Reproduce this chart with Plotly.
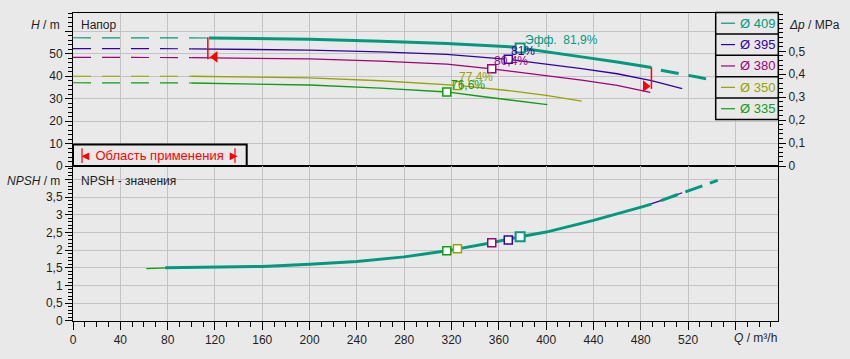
import plotly.graph_objects as go

# ---------------- data ----------------
diameters = [409, 395, 380, 350, 335]
colors = ["#00997f", "#3300a6", "#a0007a", "#98a300", "#0f9d12"]

Q_409 = [0, 50, 115, 150, 200, 260, 316, 372, 400, 430, 460, 489, 497, 515, 530, 545]
H_409 = [57.0, 57.0, 56.9, 56.7, 56.3, 55.4, 54.4, 52.9, 50.9, 48.5, 46.2, 43.8, 42.6, 40.9, 39.3, 37.6]

Q_395 = [0, 50, 100, 150, 200, 260, 316, 368, 400, 430, 460, 489, 515]
H_395 = [52.2, 52.2, 52.1, 51.9, 51.5, 50.7, 49.6, 47.4, 45.4, 43.3, 41.0, 38.0, 34.4]

Q_380 = [0, 50, 100, 150, 200, 260, 316, 354, 400, 430, 460, 488]
H_380 = [48.3, 48.3, 48.2, 48.0, 47.6, 46.6, 45.3, 43.2, 40.3, 38.2, 35.8, 32.7]

Q_350 = [0, 50, 100, 150, 200, 260, 316, 325, 372, 400, 430]
H_350 = [39.9, 39.9, 39.9, 39.7, 39.2, 37.9, 36.2, 35.8, 33.3, 31.4, 28.8]

Q_335 = [0, 50, 100, 150, 200, 260, 316, 344, 372, 401]
H_335 = [37.0, 37.0, 36.9, 36.6, 36.0, 34.6, 32.9, 31.0, 29.1, 27.3]

# best-efficiency points
eff_Q = [378, 368, 354, 325, 316]
eff_H = [52.4, 47.4, 43.2, 35.8, 32.9]
eff_NPSH = [2.38, 2.29, 2.21, 2.04, 1.98]
eff_text = ["Эфф.  81,9%", "81%", "80,4%", "77,4%", "76,6%"]

# NPSH curves
npsh_Q = [78, 120, 160, 200, 240, 280, 316, 354, 378, 400, 440, 481, 489]
npsh_N = [1.50, 1.51, 1.54, 1.60, 1.68, 1.81, 1.98, 2.21, 2.38, 2.51, 2.84, 3.22, 3.30]
npsh_ext_Q = [497, 515, 521, 536, 545]
npsh_ext_N = [3.40, 3.62, 3.68, 3.87, 3.97]
npsh_335_Q = [62, 80]
npsh_335_N = [1.48, 1.50]
npsh_395_Q = [481, 489, 497, 515]
npsh_395_N = [3.22, 3.30, 3.40, 3.62]

# application range limits
app_Q = [114, 489]
app_H_top = [57.2, 43.8]
app_H_bot = [47.4, 34.3]
arrow_Q = [120, 484]
arrow_H = [48.5, 35.5]

x_ticks = list(range(0, 600, 40))
x_ticktext = [str(v) for v in x_ticks[:-1]] + [""]
h_ticks = [0, 10, 20, 30, 40, 50, 60]
h_ticktext = ["0", "10", "20", "30", "40", "50", ""]
n_ticks = [0, 0.5, 1, 1.5, 2, 2.5, 3, 3.5, 4]
n_ticktext = ["0", "0,5", "1", "1,5", "2", "2,5", "3", "3,5", ""]
dp_ticks = [0, 0.1, 0.2, 0.3, 0.4, 0.5]
dp_ticktext = ["0", "0,1", "0,2", "0,3", "0,4", "0,5"]

# ---------------- layout geometry ----------------
W, HGT = 850, 359
ML, MR, MT, MB = 73, 72, 12, 33
PW = W - ML - MR
PH = HGT - MT - MB
SPLIT = (HGT - MB - 168) / PH
BG = "#e9e9e9"
GRID = "#c3c3c3"
FONT = "Liberation Sans, Arial, sans-serif"
TXT = "#1e1e1e"

H_MAX = 68.0
N_MAX = 4.375
Q_MAX = 596
DP_MAX = H_MAX * 1000 * 9.81 / 1e6


def px(x):
    return (x - ML) / PW


def py(y):
    return (HGT - MB - y) / PH


fig = go.Figure()
DASH = "18px,11px"

thin = [(Q_395, H_395), (Q_380, H_380), (Q_350, H_350), (Q_335, H_335)]
for (q, h), col in zip(thin[::-1], colors[1:][::-1]):
    i = q.index(100)
    fig.add_trace(go.Scatter(x=q[:i + 1], y=h[:i + 1], mode="lines",
                             line=dict(color=col, width=1.2, dash=DASH),
                             hoverinfo="skip", xaxis="x", yaxis="y"))
    fig.add_trace(go.Scatter(x=q[i:], y=h[i:], mode="lines",
                             line=dict(color=col, width=1.3),
                             hoverinfo="skip", xaxis="x", yaxis="y"))

# main curve 409
i0 = Q_409.index(115)
i1 = Q_409.index(489)
fig.add_trace(go.Scatter(x=Q_409[:i0 + 1], y=H_409[:i0 + 1], mode="lines",
                         line=dict(color=colors[0], width=1.2, dash=DASH),
                         hoverinfo="skip", xaxis="x", yaxis="y"))
fig.add_trace(go.Scatter(x=Q_409[i0:i1 + 1], y=H_409[i0:i1 + 1], mode="lines",
                         line=dict(color=colors[0], width=3),
                         hoverinfo="skip", xaxis="x", yaxis="y"))
fig.add_trace(go.Scatter(x=Q_409[i1 + 1:], y=H_409[i1 + 1:], mode="lines",
                         line=dict(color=colors[0], width=3, dash="18px,10px"),
                         hoverinfo="skip", xaxis="x", yaxis="y"))

# application range red marks
for k in range(2):
    fig.add_trace(go.Scatter(x=[app_Q[k], app_Q[k]], y=[app_H_bot[k], app_H_top[k]],
                             mode="lines", line=dict(color="#ff0000", width=1.5),
                             hoverinfo="skip", xaxis="x", yaxis="y"))
fig.add_trace(go.Scatter(x=arrow_Q, y=arrow_H, mode="markers",
                         marker=dict(symbol=["triangle-left", "triangle-right"], size=10,
                                     color="#ff0000", line=dict(width=0)),
                         hoverinfo="skip", xaxis="x", yaxis="y"))

# efficiency markers (head)
for k in range(5)[::-1]:
    big = k == 0
    fig.add_trace(go.Scatter(x=[eff_Q[k]], y=[eff_H[k]], mode="markers",
                             marker=dict(symbol="square", size=9 if big else 8, color="white",
                                         line=dict(color=colors[k], width=2 if big else 1.5)),
                             hoverinfo="skip", xaxis="x", yaxis="y"))

# dummy for right axis
fig.add_trace(go.Scatter(x=[None], y=[None], xaxis="x", yaxis="y2", hoverinfo="skip"))

# NPSH
fig.add_trace(go.Scatter(x=npsh_335_Q, y=npsh_335_N, mode="lines",
                         line=dict(color=colors[4], width=1.2), hoverinfo="skip",
                         xaxis="x2", yaxis="y3"))
fig.add_trace(go.Scatter(x=npsh_395_Q, y=npsh_395_N, mode="lines",
                         line=dict(color=colors[1], width=1.2), hoverinfo="skip",
                         xaxis="x2", yaxis="y3"))
fig.add_trace(go.Scatter(x=npsh_Q, y=npsh_N, mode="lines",
                         line=dict(color=colors[0], width=3), hoverinfo="skip",
                         xaxis="x2", yaxis="y3"))
fig.add_trace(go.Scatter(x=npsh_ext_Q, y=npsh_ext_N, mode="lines",
                         line=dict(color=colors[0], width=3, dash="18px,8px"), hoverinfo="skip",
                         xaxis="x2", yaxis="y3"))
for k in range(5)[::-1]:
    big = k == 0
    fig.add_trace(go.Scatter(x=[eff_Q[k]], y=[eff_NPSH[k]], mode="markers",
                             marker=dict(symbol="square", size=9 if big else 8, color="white",
                                         line=dict(color=colors[k], width=2 if big else 1.5)),
                             hoverinfo="skip", xaxis="x2", yaxis="y3"))

annotations = []
# efficiency labels
lab_dx = [3, 1, 0, 0, 2]
lab_dy = [8, 8, 8, 8, 7]
for k in range(5):
    annotations.append(dict(x=eff_Q[k], y=eff_H[k], xref="x", yref="y", text=eff_text[k],
                            showarrow=False, xanchor="left", yanchor="middle",
                            xshift=lab_dx[k], yshift=lab_dy[k],
                            font=dict(family=FONT, size=12, color=colors[k])))

# axis titles / panel titles
annotations += [
    dict(x=px(62), y=py(24), xref="paper", yref="paper", text="<i>H</i> / m",
         showarrow=False, xanchor="right", yanchor="middle", font=dict(family=FONT, size=12, color=TXT)),
    dict(x=px(79), y=py(24), xref="paper", yref="paper", text="Напор",
         showarrow=False, xanchor="left", yanchor="middle", font=dict(family=FONT, size=12, color=TXT)),
    dict(x=px(62), y=py(183), xref="paper", yref="paper", text="<i>NPSH</i> / m",
         showarrow=False, xanchor="right", yanchor="middle", font=dict(family=FONT, size=12, color=TXT)),
    dict(x=px(79), y=py(183), xref="paper", yref="paper", text="NPSH - значения",
         showarrow=False, xanchor="left", yanchor="middle", font=dict(family=FONT, size=12, color=TXT)),
    dict(x=px(787), y=py(24), xref="paper", yref="paper", text="<i>Δp</i> / MPa",
         showarrow=False, xanchor="left", yanchor="middle", font=dict(family=FONT, size=12, color=TXT)),
    dict(x=px(779), y=py(343), xref="paper", yref="paper", text="<i>Q</i> / m³/h",
         showarrow=False, xanchor="right", yanchor="middle", font=dict(family=FONT, size=12, color=TXT)),
    dict(x=px(159), y=py(157), xref="paper", yref="paper", text="◄ Область применения ►",
         showarrow=False, xanchor="center", yanchor="middle",
         font=dict(family=FONT, size=13, color="#ff0000")),
]

shapes = [
    # application box
    dict(type="rect", xref="paper", yref="paper", x0=px(73), x1=px(246.7), y0=py(168), y1=py(146),
         line=dict(color="black", width=2), fillcolor=BG, layer="above"),
    dict(type="line", xref="paper", yref="paper", x0=px(82), x1=px(82), y0=py(150), y1=py(165),
         line=dict(color="#ff0000", width=1.2), layer="above"),
    dict(type="line", xref="paper", yref="paper", x0=px(235), x1=px(235), y0=py(150), y1=py(165),
         line=dict(color="#ff0000", width=1.2), layer="above"),
]

# legend box
LX0, LX1, LY0 = 715.7, 778.3, 11.5
ROW = 21.8
shapes.append(dict(type="rect", xref="paper", yref="paper", x0=px(LX0), x1=px(LX1),
                   y0=py(LY0 + 5 * ROW), y1=py(LY0), line=dict(color="black", width=1.5),
                   fillcolor=BG, layer="above"))
for k in range(5):
    cy = LY0 + (k + 0.5) * ROW
    if k > 0:
        shapes.append(dict(type="line", xref="paper", yref="paper", x0=px(LX0), x1=px(LX1),
                           y0=py(LY0 + k * ROW), y1=py(LY0 + k * ROW),
                           line=dict(color="black", width=1.5), layer="above"))
    shapes.append(dict(type="line", xref="paper", yref="paper", x0=px(721), x1=px(735),
                       y0=py(cy), y1=py(cy), line=dict(color=colors[k], width=1.2), layer="above"))
    annotations.append(dict(x=px(738), y=py(cy), xref="paper", yref="paper",
                            text=f"Ø {diameters[k]}", showarrow=False, xanchor="left",
                            yanchor="middle", font=dict(family=FONT, size=13, color=colors[k])))

tickfont = dict(family=FONT, size=12, color=TXT)
fig.update_layout(
    width=W, height=HGT,
    margin=dict(l=ML, r=MR, t=MT, b=MB),
    paper_bgcolor=BG, plot_bgcolor=BG,
    showlegend=False,
    annotations=annotations,
    shapes=shapes,
    xaxis=dict(domain=[0, 1], anchor="y", range=[0, Q_MAX], tickmode="linear", tick0=0, dtick=40,
               showticklabels=False, ticks="", showgrid=True, gridcolor=GRID, gridwidth=1,
               showline=True, linecolor="black", linewidth=1, mirror=True, zeroline=False),
    xaxis2=dict(domain=[0, 1], anchor="y3", range=[0, Q_MAX], tickmode="array", tickvals=x_ticks,
                ticktext=x_ticktext, ticks="outside", ticklen=8, tickcolor="black", tickfont=tickfont,
                minor=dict(tickmode="linear", tick0=0, dtick=10, ticks="outside", ticklen=5,
                           tickcolor="black", showgrid=False),
                showgrid=True, gridcolor=GRID, gridwidth=1,
                showline=True, linecolor="black", linewidth=1, mirror=True, zeroline=False),
    yaxis=dict(domain=[SPLIT, 1], anchor="x", range=[0, H_MAX], tickmode="array", tickvals=h_ticks,
               ticktext=h_ticktext, ticks="outside", ticklen=7, tickcolor="black", tickfont=tickfont,
               minor=dict(tickmode="linear", tick0=0, dtick=2, ticks="outside", ticklen=4,
                          tickcolor="black", showgrid=False),
               showgrid=True, gridcolor=GRID, gridwidth=1,
               showline=True, linecolor="black", linewidth=1, mirror=True, zeroline=False),
    yaxis2=dict(overlaying="y", side="right", anchor="x", range=[0, DP_MAX], tickmode="array",
                tickvals=dp_ticks, ticktext=dp_ticktext, ticks="outside", ticklen=7,
                tickcolor="black", tickfont=tickfont,
                minor=dict(tickmode="linear", tick0=0, dtick=0.02, ticks="outside", ticklen=4,
                           tickcolor="black", showgrid=False),
                showgrid=False, showline=True, linecolor="black", linewidth=1, zeroline=False),
    yaxis3=dict(domain=[0, SPLIT], anchor="x2", range=[0, N_MAX], tickmode="array", tickvals=n_ticks,
                ticktext=n_ticktext, ticks="outside", ticklen=7, tickcolor="black", tickfont=tickfont,
                minor=dict(tickmode="linear", tick0=0, dtick=0.1, ticks="outside", ticklen=4,
                           tickcolor="black", showgrid=False),
                showgrid=True, gridcolor=GRID, gridwidth=1,
                showline=True, linecolor="black", linewidth=1, mirror=True, zeroline=False),
)

fig.write_html("out.html", config={"displayModeBar": False},
               post_script="document.body.style.margin='0';document.body.style.background='#e9e9e9';")
